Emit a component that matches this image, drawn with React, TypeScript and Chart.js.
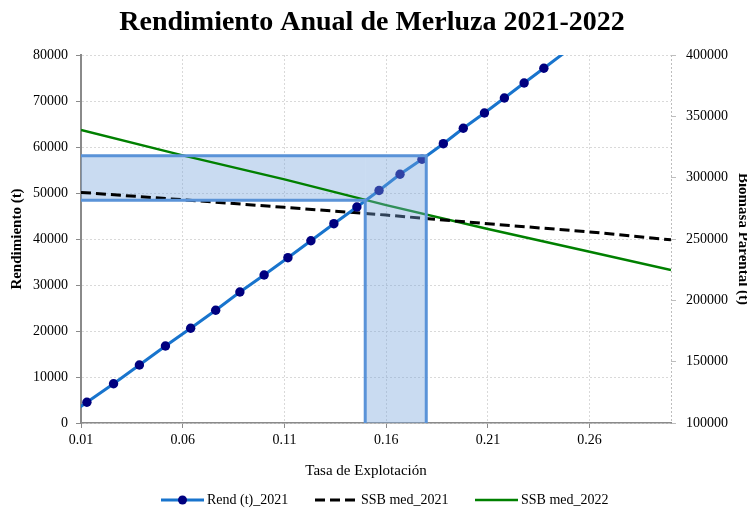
import React, { useEffect, useRef } from "react";
import { Chart, registerables } from "chart.js";

Chart.register(...registerables);

const FONT = "'Liberation Serif', 'Times New Roman', serif";

// Tasa de explotación (x) and Rendimiento (t) of the 2021 series
const rendX = [0.005, 0.0129, 0.026, 0.0387, 0.0515, 0.0639, 0.0762, 0.0881, 0.1, 0.1117, 0.123, 0.1343, 0.1456, 0.1565, 0.1668, 0.1776, 0.1881, 0.1979, 0.2083, 0.2181, 0.2278, 0.2375, 0.247];
const rendY = [2100, 4500, 8540, 12610, 16740, 20590, 24500, 28480, 32170, 35940, 39630, 43330, 46960, 50540, 54070, 57330, 60720, 64070, 67390, 70650, 73910, 77110, 80300];

// Biomasa parental (t), right axis
const ssbX = [0.01, 0.06, 0.11, 0.16, 0.21, 0.26, 0.3];
const ssb2021 = [288000, 282000, 275800, 269500, 262400, 255800, 249300];
const ssb2022 = [338800, 318200, 298600, 277600, 258100, 239600, 224700];

// Shaded reference zone
const bandYLow = 48400;
const bandYHigh = 58100;
const bandXLow = 0.1497;
const bandXHigh = 0.1797;

const xTicks = [0.01, 0.06, 0.11, 0.16, 0.21, 0.26];
const yTicks = [0, 10000, 20000, 30000, 40000, 50000, 60000, 70000, 80000];
const y1Ticks = [100000, 150000, 200000, 250000, 300000, 350000, 400000];

const TITLE = "Rendimiento Anual de Merluza 2021-2022";
const X_TITLE = "Tasa de Explotación";
const Y_TITLE = "Rendimiento (t)";
const Y1_TITLE = "Biomasa Parental (t)";
const LEGEND_LABELS = ["Rend (t)_2021", "SSB med_2021", "SSB med_2022"];

const BAND_EDGE = "#5a93d8";
const BAND_FILL = "rgba(120,165,220,0.40)";
const REND_LINE = "#1874cd";
const REND_MARK = "#00007f";
const AXIS_GRAY = "#8a8a8a";
const GRID = "#d9d9d9";

const pts = (xs: number[], ys: number[]) => xs.map((x, i) => ({ x, y: ys[i] }));

const decor = {
  id: "decor",
  beforeDatasetsDraw(chart: any) {
    const { ctx, chartArea: a } = chart;
    ctx.save();
    ctx.strokeStyle = "#bdbdbd";
    ctx.lineWidth = 1;
    ctx.setLineDash([2, 2]);
    ctx.beginPath();
    ctx.moveTo(a.right + 0.5, a.top);
    ctx.lineTo(a.right + 0.5, a.bottom);
    ctx.stroke();
    ctx.restore();
  },
  afterDraw(chart: any) {
    const { ctx, chartArea: a } = chart;
    ctx.save();
    ctx.fillStyle = "#000";
    ctx.font = `bold 28px ${FONT}`;
    ctx.textAlign = "center";
    ctx.textBaseline = "alphabetic";
    ctx.fillText(TITLE, 372, 30);
    ctx.font = `15px ${FONT}`;
    ctx.fillText(X_TITLE, 366, 475);
    ctx.save();
    ctx.font = `bold 15px ${FONT}`;
    ctx.translate(21, (a.top + a.bottom) / 2);
    ctx.rotate(-Math.PI / 2);
    ctx.fillText(Y_TITLE, 0, 0);
    ctx.restore();
    ctx.save();
    ctx.font = `bold 15px ${FONT}`;
    ctx.translate(739, (a.top + a.bottom) / 2);
    ctx.rotate(Math.PI / 2);
    ctx.fillText(Y1_TITLE, 0, 0);
    ctx.restore();
    const ly = 500;
    const starts = [161, 315, 475];
    const len = 43;
    ctx.textAlign = "left";
    ctx.textBaseline = "middle";
    ctx.font = `14px ${FONT}`;
    LEGEND_LABELS.forEach((lab, i) => {
      const ds = chart.data.datasets.find((d: any) => d.label === lab);
      const x0 = starts[i];
      ctx.save();
      ctx.strokeStyle = ds.borderColor;
      ctx.lineWidth = ds.borderWidth;
      ctx.setLineDash(ds.borderDash || []);
      ctx.beginPath();
      ctx.moveTo(x0, ly);
      ctx.lineTo(x0 + len, ly);
      ctx.stroke();
      if (i === 0) {
        ctx.fillStyle = REND_MARK;
        ctx.beginPath();
        ctx.arc(x0 + len / 2, ly, 4.5, 0, Math.PI * 2);
        ctx.fill();
      }
      ctx.restore();
      ctx.fillText(lab, x0 + len + 3, ly);
    });
    ctx.restore();
  },
};

export default function App() {
  const ref = useRef<HTMLCanvasElement>(null);
  useEffect(() => {
    if (!ref.current) return;
    const chart = new Chart(ref.current, {
      type: "line",
      data: {
        datasets: [
          {
            label: "bandEdgeA",
            data: [
              { x: 0.01, y: bandYHigh },
              { x: bandXHigh, y: bandYHigh },
              { x: bandXHigh, y: 0 },
            ],
            borderColor: BAND_EDGE,
            borderWidth: 3,
            pointRadius: 0,
            fill: false,
            yAxisID: "y",
            order: 0,
            clip: 0,
          },
          {
            label: "bandEdgeB",
            data: [
              { x: 0.01, y: bandYLow },
              { x: bandXLow, y: bandYLow },
              { x: bandXLow, y: 0 },
            ],
            borderColor: BAND_EDGE,
            borderWidth: 3,
            pointRadius: 0,
            fill: false,
            yAxisID: "y",
            order: 0,
            clip: 0,
          },
          {
            label: "bandV",
            data: [
              { x: bandXLow, y: 0 },
              { x: bandXLow, y: bandYHigh },
              { x: bandXHigh, y: bandYHigh },
              { x: bandXHigh, y: 0 },
            ],
            borderColor: "transparent",
            borderWidth: 0,
            backgroundColor: BAND_FILL,
            fill: "shape",
            pointRadius: 0,
            yAxisID: "y",
            order: 1,
          },
          {
            label: "Rend (t)_2021",
            data: pts(rendX, rendY),
            borderColor: REND_LINE,
            borderWidth: 3,
            pointRadius: rendY.map((_, i) => (i === 0 || i === rendY.length - 1 ? 0 : 4.7)),
            pointBackgroundColor: REND_MARK,
            pointBorderColor: REND_MARK,
            pointBorderWidth: 0,
            fill: false,
            yAxisID: "y",
            order: 2,
            clip: 0,
          },
          {
            label: "SSB med_2021",
            data: pts(ssbX, ssb2021),
            borderColor: "#000000",
            borderWidth: 3,
            borderDash: [10, 5],
            pointRadius: 0,
            fill: false,
            yAxisID: "y1",
            order: 3,
            clip: 0,
          },
          {
            label: "SSB med_2022",
            data: pts(ssbX, ssb2022),
            borderColor: "#008000",
            borderWidth: 2.5,
            pointRadius: 0,
            fill: false,
            yAxisID: "y1",
            order: 4,
            clip: 0,
          },
          {
            label: "bandH",
            data: [
              { x: 0.01, y: bandYLow },
              { x: bandXLow, y: bandYLow },
              { x: bandXLow, y: bandYHigh },
              { x: 0.01, y: bandYHigh },
            ],
            borderColor: "transparent",
            borderWidth: 0,
            backgroundColor: BAND_FILL,
            fill: "shape",
            pointRadius: 0,
            yAxisID: "y",
            order: 5,
          },
        ] as any,
      },
      options: {
        animation: false,
        responsive: false,
        events: [],
        layout: { padding: { top: 55, left: 0, right: 0, bottom: 0 } },
        plugins: { legend: { display: false }, title: { display: false }, tooltip: { enabled: false } },
        elements: { line: { tension: 0 } },
        scales: {
          x: {
            type: "linear",
            position: "bottom",
            min: 0.01,
            max: 0.3,
            afterBuildTicks: (s: any) => {
              s.ticks = xTicks.map((v) => ({ value: v }));
            },
            afterFit: (s: any) => {
              s.height = 88;
            },
            ticks: {
              callback: (v: any) => Number(v).toFixed(2),
              font: { family: FONT, size: 14 },
              color: "#000",
              padding: 4,
              maxRotation: 0,
              autoSkip: false,
            },
            grid: { color: GRID, lineWidth: 1, tickLength: 5, tickColor: AXIS_GRAY, tickBorderDash: [] },
            border: { color: AXIS_GRAY, width: 1.5, dash: [2, 2] },
          },
          y: {
            type: "linear",
            position: "left",
            min: 0,
            max: 80000,
            afterBuildTicks: (s: any) => {
              s.ticks = yTicks.map((v) => ({ value: v }));
            },
            afterFit: (s: any) => {
              s.width = 81;
            },
            ticks: {
              callback: (v: any) => String(v),
              font: { family: FONT, size: 14 },
              color: "#000",
              padding: 8,
            },
            grid: { color: GRID, lineWidth: 1, tickLength: 5, tickColor: AXIS_GRAY, tickBorderDash: [] },
            border: { color: AXIS_GRAY, width: 2, dash: [2, 2] },
          },
          y1: {
            type: "linear",
            position: "right",
            min: 100000,
            max: 400000,
            afterBuildTicks: (s: any) => {
              s.ticks = y1Ticks.map((v) => ({ value: v }));
            },
            afterFit: (s: any) => {
              s.width = 76;
            },
            ticks: {
              callback: (v: any) => String(v),
              font: { family: FONT, size: 14 },
              color: "#000",
              padding: 10,
            },
            grid: { drawOnChartArea: false, tickLength: 5, tickColor: "#bdbdbd", tickBorderDash: [] },
            border: { display: false },
          },
        },
      } as any,
      plugins: [decor],
    });
    return () => chart.destroy();
  }, []);
  return (
    <div style={{ position: "fixed", left: 0, top: 0, width: 747, height: 511, background: "#fff" }}>
      <canvas ref={ref} width={747} height={511} style={{ display: "block" }} />
    </div>
  );
}
